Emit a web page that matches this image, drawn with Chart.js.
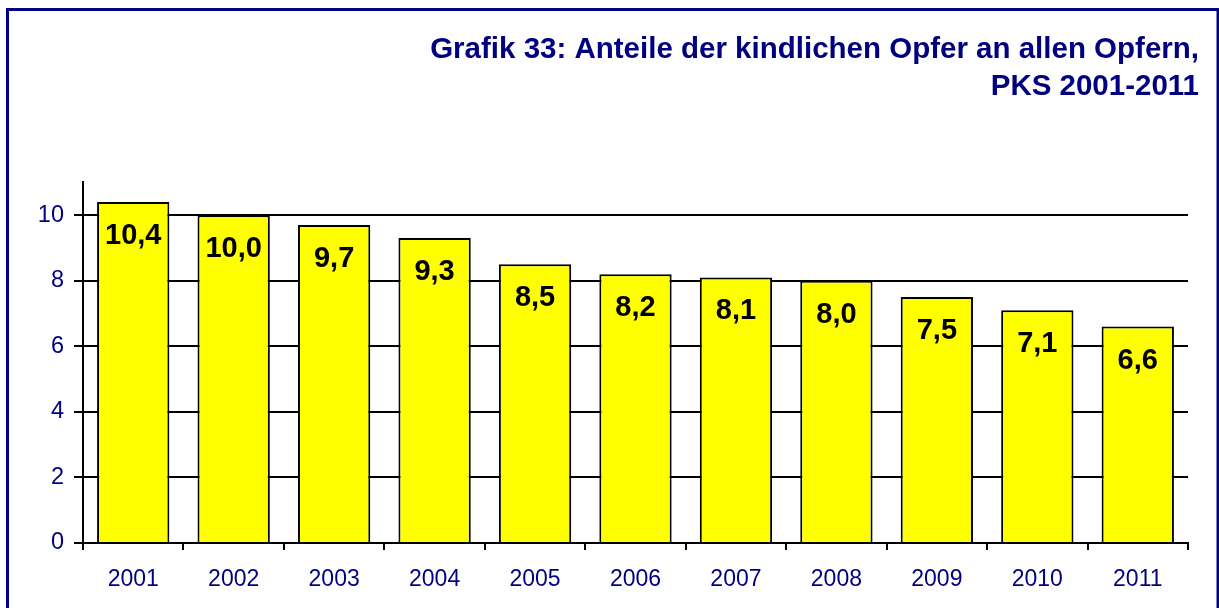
<!DOCTYPE html>
<html>
<head>
<meta charset="utf-8">
<script src="https://cdn.jsdelivr.net/npm/chart.js@4"></script>
<style>
  html, body { margin: 0; padding: 0; background: #fff; }
  #wrap { width: 1219px; height: 608px; }
</style>
</head>
<body>
<div id="wrap"><canvas id="chart" width="1219" height="608"></canvas></div>
<script>
const years = ['2001', '2002', '2003', '2004', '2005', '2006', '2007', '2008', '2009', '2010', '2011'];
const shares = [10.4, 10.0, 9.7, 9.3, 8.5, 8.2, 8.1, 8.0, 7.5, 7.1, 6.6];
const titleLines = ['Grafik 33: Anteile der kindlichen Opfer an allen Opfern,', 'PKS 2001-2011'];

const navy = '#000080';
const fontFamily = "'Liberation Sans', Arial, Helvetica, sans-serif";

// blue frame round the whole picture
const frame = {
    id: 'frame',
    beforeDraw(chart) {
        const ctx = chart.ctx;
        ctx.save();
        ctx.fillStyle = '#fff';
        ctx.fillRect(0, 0, chart.width, chart.height);
        ctx.strokeStyle = navy;
        ctx.lineWidth = 3;
        ctx.strokeRect(7.5, 9.5, 1210.5, 700);
        ctx.restore();
    }
};

// values written inside the top of each bar
const barValues = {
    id: 'barValues',
    afterDatasetsDraw(chart) {
        const ctx = chart.ctx;
        ctx.save();
        ctx.font = 'bold 29px ' + fontFamily;
        ctx.fillStyle = '#000';
        ctx.textAlign = 'center';
        ctx.textBaseline = 'middle';
        chart.getDatasetMeta(0).data.forEach((bar, i) => {
            const txt = shares[i].toFixed(1).replace('.', ',');
            ctx.fillText(txt, bar.x, bar.y + 34);
        });
        ctx.restore();
    }
};

new Chart(document.getElementById('chart'), {
    type: 'bar',
    data: {
        labels: years,
        datasets: [{
            data: shares,
            backgroundColor: '#ffff00',
            borderColor: '#000',
            borderWidth: 2,
            borderSkipped: 'bottom',
            barPercentage: 0.72,
            categoryPercentage: 1
        }]
    },
    options: {
        responsive: false,
        animation: false,
        layout: { padding: { left: 0, right: 20, top: 0, bottom: 0 } },
        plugins: {
            legend: { display: false },
            tooltip: { enabled: false },
            title: {
                display: true,
                text: titleLines,
                align: 'end',
                color: navy,
                font: { family: fontFamily, size: 29.5, weight: 'bold', lineHeight: 1.26 },
                padding: { top: 31, bottom: 77 }
            }
        },
        scales: {
            x: {
                grid: {
                    offset: true,
                    drawOnChartArea: false,
                    drawTicks: true,
                    tickLength: 7,
                    color: '#000',
                    lineWidth: 2
                },
                border: { display: true, color: '#000', width: 2 },
                ticks: {
                    color: navy,
                    font: { family: fontFamily, size: 23 },
                    padding: 16,
                    maxRotation: 0
                },
                afterFit(scale) { scale.height = 65; }
            },
            y: {
                min: 0,
                max: 11,
                ticks: {
                    stepSize: 2,
                    color: navy,
                    font: { family: fontFamily, size: 23.5 },
                    padding: 10
                },
                afterBuildTicks(scale) {
                    scale.ticks = scale.ticks.filter(t => t.value !== 11);
                },
                grid: {
                    color: '#000',
                    lineWidth: 2,
                    tickLength: 9
                },
                border: { display: true, color: '#000', width: 2 },
                afterFit(scale) { scale.width = 83; }
            },
            // empty spacer so the plot ends before the title's right edge
            spacer: {
                position: 'right',
                display: true,
                grid: { display: false },
                border: { display: false },
                ticks: { display: false },
                afterFit(scale) { scale.width = 11; }
            }
        }
    },
    plugins: [frame, barValues]
});
</script>
</body>
</html>
